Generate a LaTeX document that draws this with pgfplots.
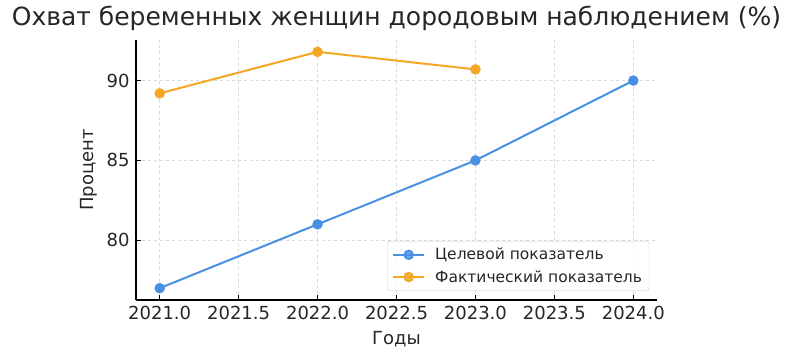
\documentclass[border=0pt]{standalone}
\usepackage{pgfplots}
\pgfplotsset{compat=1.18}
\usepackage{fontspec}
\setmainfont{DejaVu Sans}
\definecolor{cblue}{HTML}{4A90E2}
\definecolor{corange}{HTML}{F5A623}
\definecolor{txt}{HTML}{262626}
\begin{document}
\begin{tikzpicture}
\path[use as bounding box] (-136pt,-60pt) rectangle (656pt,300pt);
\begin{axis}[
  at={(0pt,0pt)}, anchor=south west,
  scale only axis, width=521pt, height=260pt,
  xmin=2020.85, xmax=2024.15, ymin=76.26, ymax=92.54,
  axis lines*=left,
  axis line style={line width=1.1pt, black},
  tick align=inside, major tick length=5pt,
  tick style={line width=0.9pt, black},
  xtick={2021,2021.5,2022,2022.5,2023,2023.5,2024},
  ytick={80,85,90},
  ticklabel style={font=\fontsize{18}{20}\selectfont, text=txt},
  xticklabel style={yshift=-3pt, /pgf/number format/fixed, /pgf/number format/fixed zerofill, /pgf/number format/precision=1, /pgf/number format/1000 sep={}, /pgf/number format/assume math mode=true},
  yticklabel style={xshift=-3pt, /pgf/number format/assume math mode=true},
  grid=major,
  grid style={dashed, line width=0.6pt, color=black!15},
  title={Охват беременных женщин дородовым наблюдением (\%)},
  title style={font=\fontsize{25}{28}\selectfont, text=txt, yshift=0pt},
  xlabel={Годы}, ylabel={Процент},
  label style={font=\fontsize{18}{20}\selectfont, text=txt},
  xlabel style={yshift=-4pt},
  ylabel style={yshift=2pt},
  legend style={font=\fontsize{15.5}{17}\selectfont, text=txt, draw=black!20, rounded corners=3pt, fill=white, fill opacity=0.8, text opacity=1, at={(0.985,0.035)}, anchor=south east, inner xsep=5pt, inner ysep=5pt, row sep=5pt},
  legend cell align=left,
  legend image code/.code={\draw[#1] (0pt,0pt) -- (31pt,0pt); \fill[#1] (15.5pt,0pt) circle (4.2pt); \path (39pt,0pt);},
]
\addplot[color=cblue, line width=2pt, mark=*, mark size=4.2pt, mark options={solid}] coordinates {(2021,77) (2022,81) (2023,85) (2024,90)};
\addlegendentry{Целевой показатель}
\addplot[color=corange, line width=2pt, mark=*, mark size=4.2pt] coordinates {(2021,89.2) (2022,91.8) (2023,90.7)};
\addlegendentry{Фактический показатель}
\end{axis}
\end{tikzpicture}
\end{document}
